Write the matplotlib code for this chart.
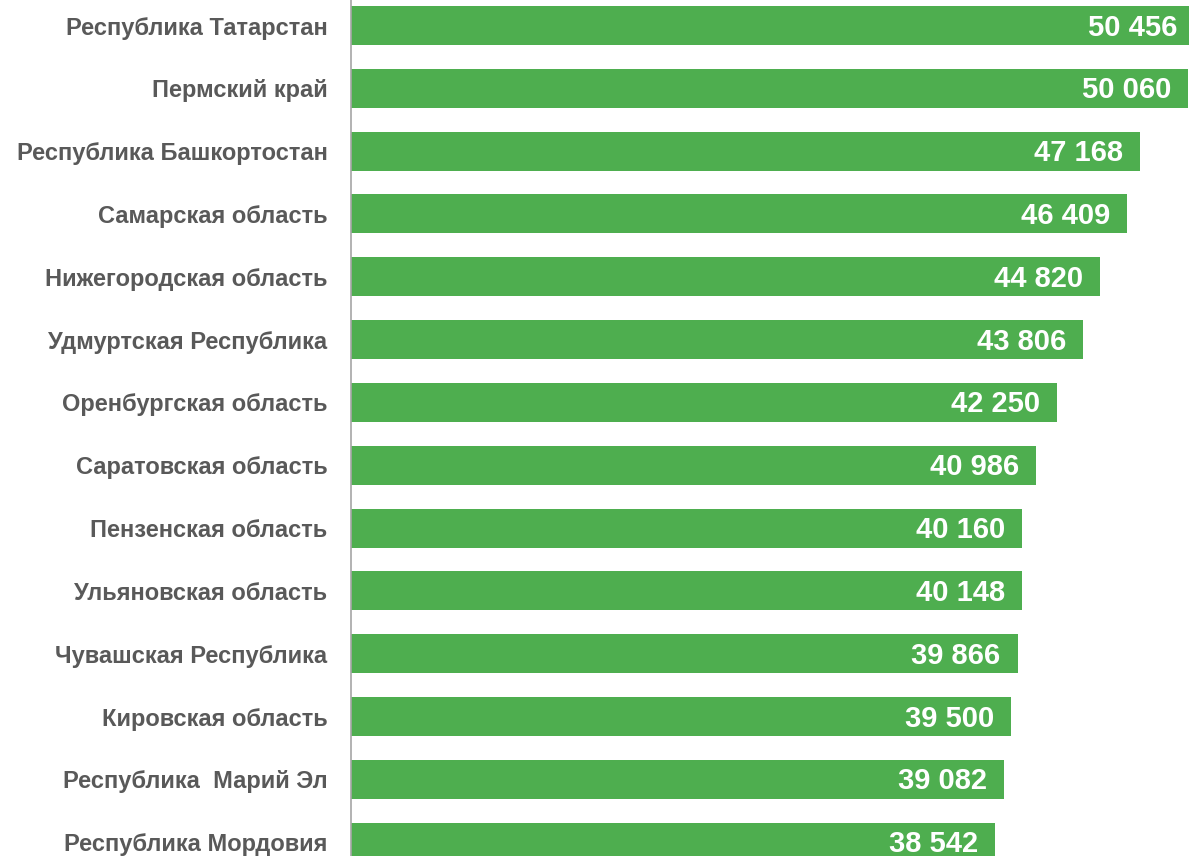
import numpy as np
import matplotlib.pyplot as plt

regions = ["Республика Татарстан", "Пермский край", "Республика Башкортостан",
           "Самарская область", "Нижегородская область", "Удмуртская Республика",
           "Оренбургская область", "Саратовская область", "Пензенская область",
           "Ульяновская область", "Чувашская Республика", "Кировская область",
           "Республика  Марий Эл", "Республика Мордовия"]
values = [50456, 50060, 47168, 46409, 44820, 43806, 42250, 40986, 40160,
          40148, 39866, 39500, 39082, 38542]

plt.rcParams['font.family'] = ['Liberation Sans', 'DejaVu Sans']

fig = plt.figure(figsize=(11.89, 8.56), dpi=100)
ax = fig.add_axes([351 / 1189, 0, 1 - 351 / 1189, 1])

y = np.arange(len(values))
ax.barh(y, values, height=0.62, color='#4EAE4F')

ax.set_xlim(0, 50120)
ax.set_ylim(13.22, -0.406)

def fmt(v):
    return f"{v:,}".replace(",", " ")

for yi, v in zip(y, values):
    ax.annotate(fmt(v), (v, yi), xytext=(-17, -2), textcoords='offset pixels',
                ha='right', va='center', color='white', fontsize=21,
                fontweight='bold', annotation_clip=False)

ax.set_yticks(y)
ax.set_yticklabels(regions, fontsize=17, fontweight='bold', color='#595959')
ax.tick_params(axis='y', length=0, pad=17)
ax.set_xticks([])
for s in ['top', 'right', 'bottom']:
    ax.spines[s].set_visible(False)
ax.spines['left'].set_color('#A6A6A6')
ax.spines['left'].set_linewidth(1.2)

fig.savefig('out.png', dpi=100)
